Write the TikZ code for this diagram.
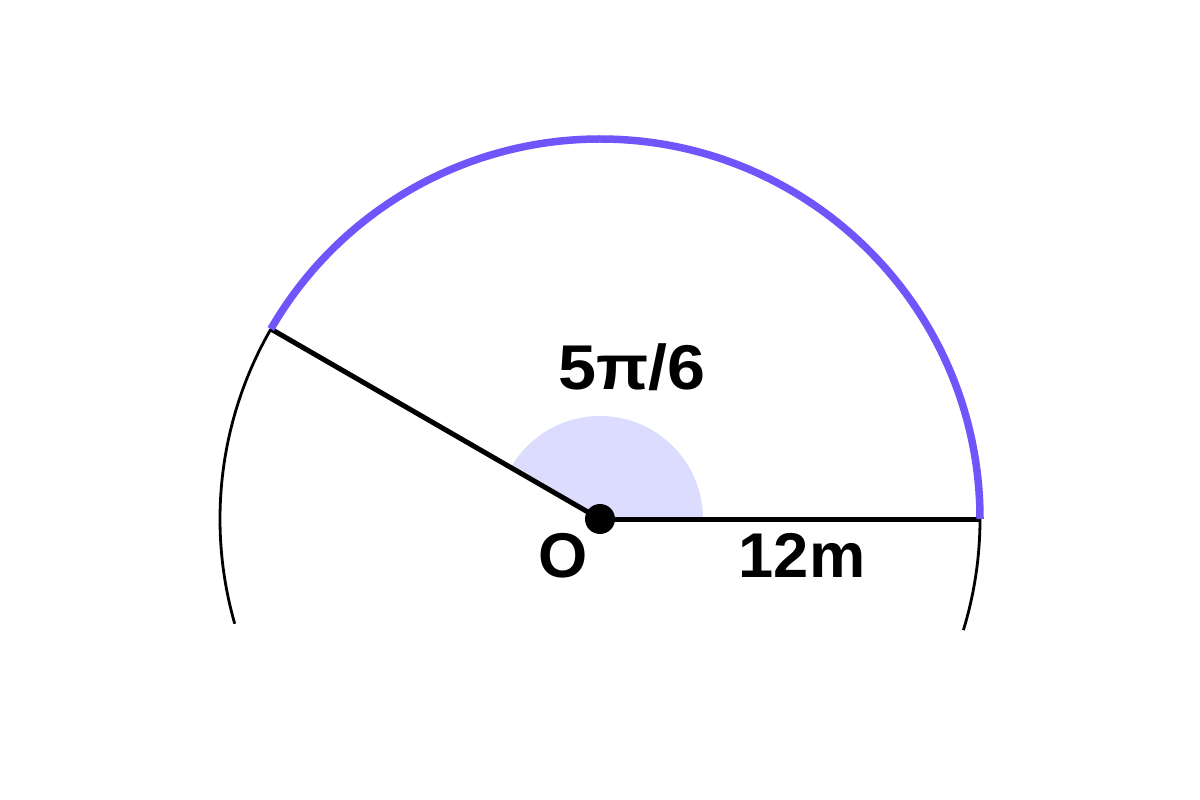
\documentclass[tikz,border=0pt]{standalone}
\usepackage{fontspec}
\setmainfont{Liberation Sans}
\definecolor{arcpurple}{RGB}{112,86,250}
\definecolor{sectorfill}{RGB}{220,220,254}
\begin{document}
\begin{tikzpicture}[x=0.02cm,y=-0.02cm,
  lbl/.style={font=\fontsize{36}{40}\selectfont\bfseries, anchor=base, inner sep=0pt},
  radius line/.style={line width=5pt*0.569},
  thin arc/.style={line width=2.8pt*0.569},
  main arc/.style={draw=arcpurple, line width=7.5pt*0.569}]
\useasboundingbox[fill=white] (0,0) rectangle (1200,800);
\coordinate (O) at (600,519);
\coordinate (A) at (980,519);
% shaded sector
\fill[sectorfill] (O) -- ++(103,0) arc[start angle=0, end angle=-150, radius=103] -- cycle;
% thin arcs
\draw[thin arc] (O) ++(-150:380) arc[start angle=-150, end angle=-196, radius=380];
\draw[thin arc] (A) arc[start angle=0, end angle=17, radius=380];
% radii
\draw[radius line] (O) -- (A);
\draw[radius line] (O) -- ++(-150:380) coordinate (B);
% main arc
\draw[main arc, line cap=butt] (A) arc[start angle=0, end angle=-150, radius=380];
\fill (O) circle[radius=15];
\node[lbl, xscale=1.08] (ang) at (632,390) {5π/6};
\node[lbl] (o) at (563,577) {O};
\node[lbl] (len) at (802,577) {12m};
\end{tikzpicture}
\end{document}
